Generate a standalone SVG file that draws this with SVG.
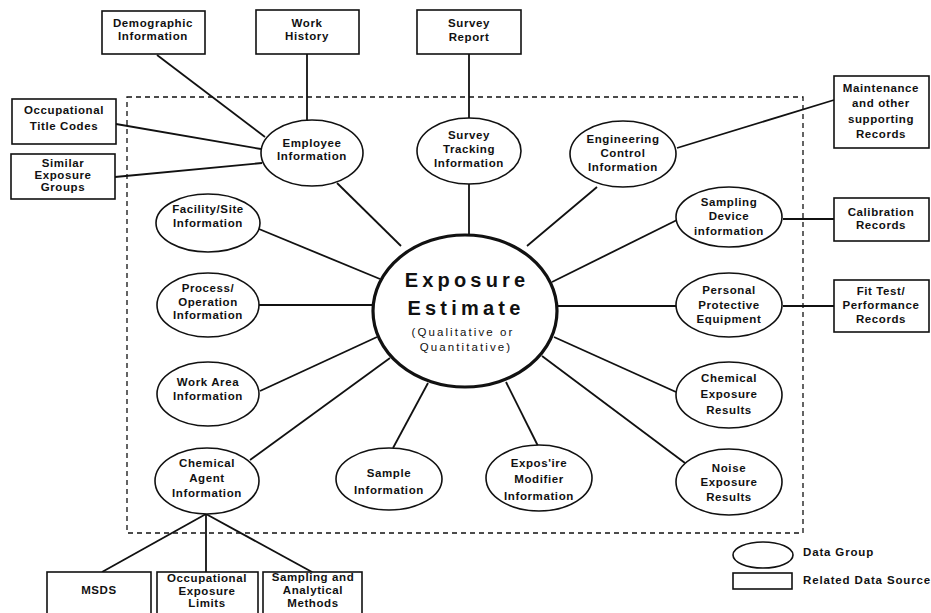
<svg xmlns="http://www.w3.org/2000/svg" width="931" height="613" viewBox="0 0 931 613">
  <style>
    .bg { fill: #ffffff; }
    .box { fill: #ffffff; stroke: #111; stroke-width: 1.6; }
    .grp { fill: #ffffff; stroke: #111; stroke-width: 1.6; }
    .core { fill: #ffffff; stroke: #111; stroke-width: 3.2; }
    .frame { fill: none; stroke: #111; stroke-width: 1.3; stroke-dasharray: 5 4; }
    .link { stroke: #111; stroke-width: 1.8; fill: none; }
    text { font-family: "Liberation Sans", Arial, Helvetica, sans-serif; fill: #111; }
    .t { font-size: 11.5px; font-weight: bold; text-anchor: middle; letter-spacing: 0.6px; }
    .big { font-size: 20px; font-weight: bold; text-anchor: middle; letter-spacing: 4.2px; }
    .sub { font-size: 11.5px; text-anchor: middle; letter-spacing: 2.1px; }
    .leg { font-size: 11.5px; font-weight: bold; letter-spacing: 0.85px; }
  </style>

  <rect class="bg" x="0" y="0" width="931" height="613"/>

  <!-- boundary of the exposure data set -->
  <rect id="boundary" class="frame" x="127" y="97" width="676" height="436"/>

  <!-- connectors -->
  <g id="connectors">
    <line class="link" x1="157" y1="55" x2="265" y2="137"/>
    <line class="link" x1="307" y1="54" x2="307" y2="120"/>
    <line class="link" x1="116" y1="124" x2="261" y2="149"/>
    <line class="link" x1="115" y1="177" x2="262" y2="163"/>
    <line class="link" x1="469" y1="54" x2="469" y2="118"/>
    <line class="link" x1="677" y1="148" x2="834" y2="100"/>
    <line class="link" x1="783" y1="219" x2="834" y2="219"/>
    <line class="link" x1="783" y1="306" x2="834" y2="306"/>

    <line class="link" x1="337" y1="183" x2="401" y2="246"/>
    <line class="link" x1="469" y1="184" x2="469" y2="235"/>
    <line class="link" x1="597" y1="187" x2="527" y2="246"/>
    <line class="link" x1="259" y1="229" x2="380" y2="279"/>
    <line class="link" x1="258" y1="305" x2="373" y2="305"/>
    <line class="link" x1="260" y1="391" x2="377" y2="337"/>
    <line class="link" x1="250" y1="460" x2="390" y2="358"/>
    <line class="link" x1="393" y1="448" x2="428" y2="383"/>
    <line class="link" x1="538" y1="446" x2="506" y2="382"/>
    <line class="link" x1="685" y1="463" x2="542" y2="356"/>
    <line class="link" x1="676" y1="392" x2="554" y2="337"/>
    <line class="link" x1="557" y1="306" x2="676" y2="306"/>
    <line class="link" x1="552" y1="282" x2="677" y2="220"/>

    <line class="link" x1="206" y1="514" x2="102" y2="572"/>
    <line class="link" x1="206" y1="514" x2="206" y2="572"/>
    <line class="link" x1="206" y1="514" x2="312" y2="572"/>
  </g>

  <!-- related data sources -->
  <g id="src-demographic">
    <rect class="box" x="102" y="11" width="103" height="43"/>
    <text class="t" x="153" y="27">Demographic</text>
    <text class="t" x="153" y="40">Information</text>
  </g>
  <g id="src-work-history">
    <rect class="box" x="256" y="10" width="103" height="44"/>
    <text class="t" x="307" y="27">Work</text>
    <text class="t" x="307" y="40">History</text>
  </g>
  <g id="src-survey-report">
    <rect class="box" x="417" y="10" width="104" height="44"/>
    <text class="t" x="469" y="27">Survey</text>
    <text class="t" x="469" y="41">Report</text>
  </g>
  <g id="src-title-codes">
    <rect class="box" x="12" y="99" width="104" height="45"/>
    <text class="t" x="64" y="114">Occupational</text>
    <text class="t" x="64" y="130">Title Codes</text>
  </g>
  <g id="src-similar-groups">
    <rect class="box" x="11" y="154" width="104" height="45"/>
    <text class="t" x="63" y="167">Similar</text>
    <text class="t" x="63" y="179">Exposure</text>
    <text class="t" x="63" y="191">Groups</text>
  </g>
  <g id="src-maintenance">
    <rect class="box" x="834" y="76" width="95" height="72"/>
    <text class="t" x="881" y="92">Maintenance</text>
    <text class="t" x="881" y="107">and other</text>
    <text class="t" x="881" y="123">supporting</text>
    <text class="t" x="881" y="138">Records</text>
  </g>
  <g id="src-calibration">
    <rect class="box" x="834" y="198" width="95" height="43"/>
    <text class="t" x="881" y="216">Calibration</text>
    <text class="t" x="881" y="229">Records</text>
  </g>
  <g id="src-fit-test">
    <rect class="box" x="834" y="280" width="95" height="52"/>
    <text class="t" x="881" y="295">Fit Test/</text>
    <text class="t" x="881" y="309">Performance</text>
    <text class="t" x="881" y="323">Records</text>
  </g>
  <g id="src-msds">
    <rect class="box" x="47" y="572" width="104" height="46"/>
    <text class="t" x="99" y="594">MSDS</text>
  </g>
  <g id="src-oel">
    <rect class="box" x="157" y="572" width="101" height="46"/>
    <text class="t" x="207" y="582">Occupational</text>
    <text class="t" x="207" y="595">Exposure</text>
    <text class="t" x="207" y="607">Limits</text>
  </g>
  <g id="src-methods">
    <rect class="box" x="263" y="572" width="99" height="46"/>
    <text class="t" x="313" y="581">Sampling and</text>
    <text class="t" x="313" y="594">Analytical</text>
    <text class="t" x="313" y="607">Methods</text>
  </g>

  <!-- data groups -->
  <g id="grp-employee">
    <ellipse class="grp" cx="312" cy="153" rx="51" ry="33"/>
    <text class="t" x="312" y="147">Employee</text>
    <text class="t" x="312" y="160">Information</text>
  </g>
  <g id="grp-survey-tracking">
    <ellipse class="grp" cx="469" cy="151" rx="52" ry="33"/>
    <text class="t" x="469" y="139">Survey</text>
    <text class="t" x="469" y="153">Tracking</text>
    <text class="t" x="469" y="167">Information</text>
  </g>
  <g id="grp-engineering">
    <ellipse class="grp" cx="623" cy="154" rx="53" ry="33"/>
    <text class="t" x="623" y="143">Engineering</text>
    <text class="t" x="623" y="157">Control</text>
    <text class="t" x="623" y="171">Information</text>
  </g>
  <g id="grp-facility">
    <ellipse class="grp" cx="208" cy="223" rx="52" ry="29"/>
    <text class="t" x="208" y="213">Facility/Site</text>
    <text class="t" x="208" y="227">Information</text>
  </g>
  <g id="grp-process">
    <ellipse class="grp" cx="208" cy="305" rx="51" ry="32"/>
    <text class="t" x="208" y="292">Process/</text>
    <text class="t" x="208" y="306">Operation</text>
    <text class="t" x="208" y="319">Information</text>
  </g>
  <g id="grp-work-area">
    <ellipse class="grp" cx="208" cy="394" rx="51" ry="32"/>
    <text class="t" x="208" y="386">Work Area</text>
    <text class="t" x="208" y="400">Information</text>
  </g>
  <g id="grp-chemical-agent">
    <ellipse class="grp" cx="207" cy="481" rx="52" ry="33"/>
    <text class="t" x="207" y="467">Chemical</text>
    <text class="t" x="207" y="482">Agent</text>
    <text class="t" x="207" y="497">Information</text>
  </g>
  <g id="grp-sample">
    <ellipse class="grp" cx="389" cy="479" rx="53" ry="31"/>
    <text class="t" x="389" y="477">Sample</text>
    <text class="t" x="389" y="494">Information</text>
  </g>
  <g id="grp-modifier">
    <ellipse class="grp" cx="539" cy="478" rx="53" ry="33"/>
    <text class="t" x="539" y="467">Expos'ire</text>
    <text class="t" x="539" y="483">Modifier</text>
    <text class="t" x="539" y="500">Information</text>
  </g>
  <g id="grp-sampling-device">
    <ellipse class="grp" cx="729" cy="217" rx="53" ry="30"/>
    <text class="t" x="729" y="206">Sampling</text>
    <text class="t" x="729" y="220">Device</text>
    <text class="t" x="729" y="235">information</text>
  </g>
  <g id="grp-ppe">
    <ellipse class="grp" cx="729" cy="305" rx="53" ry="32"/>
    <text class="t" x="729" y="294">Personal</text>
    <text class="t" x="729" y="309">Protective</text>
    <text class="t" x="729" y="323">Equipment</text>
  </g>
  <g id="grp-chem-results">
    <ellipse class="grp" cx="729" cy="395" rx="53" ry="33"/>
    <text class="t" x="729" y="382">Chemical</text>
    <text class="t" x="729" y="398">Exposure</text>
    <text class="t" x="729" y="414">Results</text>
  </g>
  <g id="grp-noise-results">
    <ellipse class="grp" cx="729" cy="482" rx="53" ry="33"/>
    <text class="t" x="729" y="472">Noise</text>
    <text class="t" x="729" y="486">Exposure</text>
    <text class="t" x="729" y="501">Results</text>
  </g>

  <!-- central estimate -->
  <g id="exposure-estimate">
    <ellipse class="core" cx="465" cy="311" rx="92" ry="76"/>
    <text class="big" x="467" y="287">Exposure</text>
    <text class="big" x="466" y="315">Estimate</text>
    <text class="sub" x="463" y="336">(Qualitative or</text>
    <text class="sub" x="466" y="351">Quantitative)</text>
  </g>

  <!-- legend -->
  <g id="legend">
    <ellipse class="grp" cx="763" cy="555" rx="30" ry="13"/>
    <text class="leg" x="803" y="556">Data Group</text>
    <rect class="box" x="733" y="573" width="59" height="16"/>
    <text class="leg" x="803" y="584">Related Data Source</text>
  </g>
</svg>
